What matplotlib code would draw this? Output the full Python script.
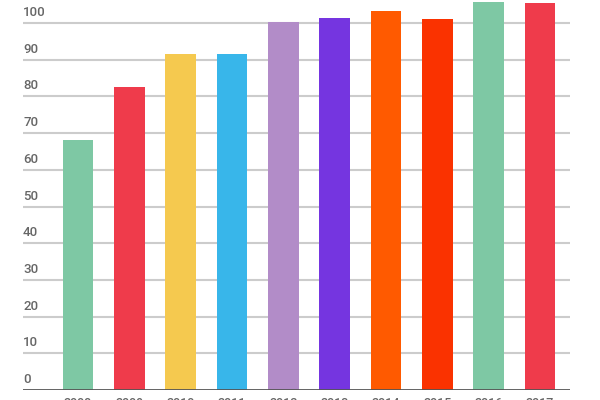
import matplotlib
matplotlib.use("Agg")
import matplotlib.pyplot as plt
import matplotlib.transforms as mtransforms

years = ["2008", "2009", "2010", "2011", "2012", "2013", "2014", "2015", "2016", "2017"]
values = [68.1, 82.6, 91.7, 91.6, 100.2, 101.5, 103.4, 101.0, 105.8, 105.6]
colors = ["#7EC8A4", "#EF3B4B", "#F5C94F", "#38B6EA", "#B28CC8",
          "#7535E0", "#FF5A00", "#FA3200", "#7EC8A4", "#EF3B4B"]
yticks = [0, 10, 20, 30, 40, 50, 60, 70, 80, 90, 100]

plt.rcParams['font.family'] = ['Roboto', 'DejaVu Sans']

fig = plt.figure(figsize=(6, 4), dpi=100)
ax = fig.add_axes([23/600, 10/400, (570-23)/600, 390/400])
ax.set_xlim(-1.072, 9.585)
ax.set_ylim(0, 106.3)

x = list(range(len(years)))
ax.bar(x, values, width=0.6, color=colors, zorder=3, clip_on=False)

for v in yticks[1:]:
    ax.axhline(v, color="#cccccc", linewidth=1.5, zorder=1)
ax.axhline(0, color="#555555", linewidth=2, zorder=4)

for s in ax.spines.values():
    s.set_visible(False)
ax.set_yticks([])
ax.set_xticks(x)
ax.set_xticklabels(years, fontsize=9, color="#666666", fontweight="medium")
ax.tick_params(axis='x', length=0, pad=5)

off = mtransforms.offset_copy(ax.get_yaxis_transform(), fig=fig, x=0, y=4, units='dots')
for v in yticks:
    ax.text(0, v, str(v), transform=off, ha='left', va='bottom',
            fontsize=9.5, color="#666666", fontweight="medium", zorder=5)

fig.savefig("out.png", dpi=100)
